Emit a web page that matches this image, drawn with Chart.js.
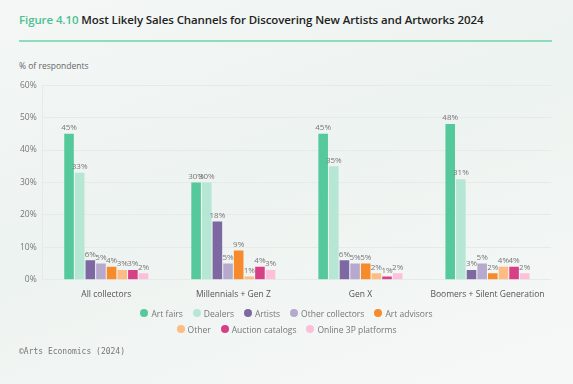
<!DOCTYPE html>
<html>
<head>
<meta charset="utf-8">
<script src="https://cdn.jsdelivr.net/npm/chart.js@4.4.1/dist/chart.umd.min.js"></script>
<style>
  html, body { margin: 0; padding: 0; }
  body {
    width: 573px; height: 384px; overflow: hidden; position: relative;
    background: linear-gradient(160deg, #f4f7f6 0%, #edf3f0 45%, #f6f8f7 100%);
    font-family: 'Open Sans', sans-serif;
  }
  #title { position: absolute; left: 19px; top: 12px; font-size: 11.5px; font-weight: 600; color: #222; letter-spacing: -0.1px; }
  #title span { color: #4fc08f; }
  #rule { position: absolute; left: 19px; top: 40px; width: 533px; height: 2px; background: #8fdcbc; }
  #ytitle { position: absolute; left: 19px; top: 60px; font-size: 8.5px; color: #666; }
  #wrap { position: absolute; left: 0; top: 74px; width: 551px; height: 232px; }
  #legend { position: absolute; left: 0; top: 305px; width: 573px; font-size: 8.5px; color: #777; }
  #legend .row { display: flex; justify-content: center; gap: 10px; height: 16px; align-items: center; }
  #legend .item { display: flex; align-items: center; gap: 3px; }
  #legend .dot { width: 8px; height: 8px; border-radius: 50%; display: inline-block; }
  #foot { position: absolute; left: 19px; top: 347px; font-family: 'DejaVu Sans Mono', monospace; font-size: 8px; color: #777; }
</style>
</head>
<body>
<div id="title"><span>Figure 4.10</span> Most Likely Sales Channels for Discovering New Artists and Artworks 2024</div>
<div id="rule"></div>
<div id="ytitle">% of respondents</div>
<div id="wrap"><canvas id="chart"></canvas></div>
<div id="legend"></div>
<div id="foot">©Arts Economics (2024)</div>
<script>
// ── data ──────────────────────────────────────────────
const groups = ['All collectors', 'Millennials + Gen Z', 'Gen X', 'Boomers + Silent Generation'];
const artFairs        = [45, 30, 45, 48];
const dealers         = [33, 30, 35, 31];
const artists         = [6, 18, 6, 3];
const otherCollectors = [5, 5, 5, 5];
const artAdvisors     = [4, 9, 5, 2];
const other           = [3, 1, 2, 4];
const auctionCatalogs = [3, 4, 1, 4];
const online3P        = [2, 3, 2, 2];
const yTicks = [0, 10, 20, 30, 40, 50, 60];

const series = [
    { label: 'Art fairs', data: artFairs, color: '#55c89c' },
    { label: 'Dealers', data: dealers, color: '#b5e7d4' },
    { label: 'Artists', data: artists, color: '#7e68a1' },
    { label: 'Other collectors', data: otherCollectors, color: '#b6a9cd' },
    { label: 'Art advisors', data: artAdvisors, color: '#f78a2a' },
    { label: 'Other', data: other, color: '#fdbc84' },
    { label: 'Auction catalogs', data: auctionCatalogs, color: '#d73f87' },
    { label: 'Online 3P platforms', data: online3P, color: '#fdbfd9' },
];

// value labels above each bar
const valueLabels = {
    id: 'valueLabels',
    afterDatasetsDraw(chart) {
        const { ctx } = chart;
        ctx.save();
        ctx.font = "8px 'Open Sans', sans-serif";
        ctx.fillStyle = '#777';
        ctx.textAlign = 'center';
        ctx.textBaseline = 'bottom';
        chart.data.datasets.forEach((ds, i) => {
            chart.getDatasetMeta(i).data.forEach((bar, j) => {
                ctx.fillText(ds.data[j] + '%', bar.x, bar.y - 2);
            });
        });
        ctx.restore();
    }
};

// html legend, two rows like the original (5 + 3)
const htmlLegend = {
    id: 'htmlLegend',
    afterUpdate(chart) {
        const box = document.getElementById('legend');
        box.innerHTML = '';
        const items = chart.options.plugins.legend.labels.generateLabels(chart);
        [items.slice(0, 5), items.slice(5)].forEach(rowItems => {
            const row = document.createElement('div');
            row.className = 'row';
            rowItems.forEach(it => {
                const el = document.createElement('span');
                el.className = 'item';
                el.innerHTML = `<span class="dot" style="background:${it.fillStyle}"></span>${it.text}`;
                row.appendChild(el);
            });
            box.appendChild(row);
        });
    }
};

new Chart(document.getElementById('chart'), {
    type: 'bar',
    data: {
        labels: groups,
        datasets: series.map(s => ({ label: s.label, data: s.data, backgroundColor: s.color, borderWidth: 0, categoryPercentage: 0.67, barPercentage: 0.9 }))
    },
    options: {
        responsive: true, maintainAspectRatio: false, animation: false,
        layout: { padding: { left: 14, right: 0, top: 6, bottom: 4 } },
        plugins: {
            legend: { display: false },
            tooltip: { enabled: false }
        },
        scales: {
            x: {
                grid: { display: false },
                border: { color: '#e6ebe9' },
                ticks: { color: '#555', font: { family: "'Open Sans', sans-serif", size: 8.5 }, padding: 2 }
            },
            y: {
                min: 0, max: 60,
                afterBuildTicks: axis => { axis.ticks = yTicks.map(v => ({ value: v })); },
                grid: { color: '#e6ebe9', drawTicks: false },
                border: { color: '#e6ebe9' },
                ticks: { color: '#777', padding: 6, font: { family: "'Open Sans', sans-serif", size: 8.5 }, callback: v => v + '%' }
            }
        }
    },
    plugins: [valueLabels, htmlLegend]
});
</script>
</body>
</html>
